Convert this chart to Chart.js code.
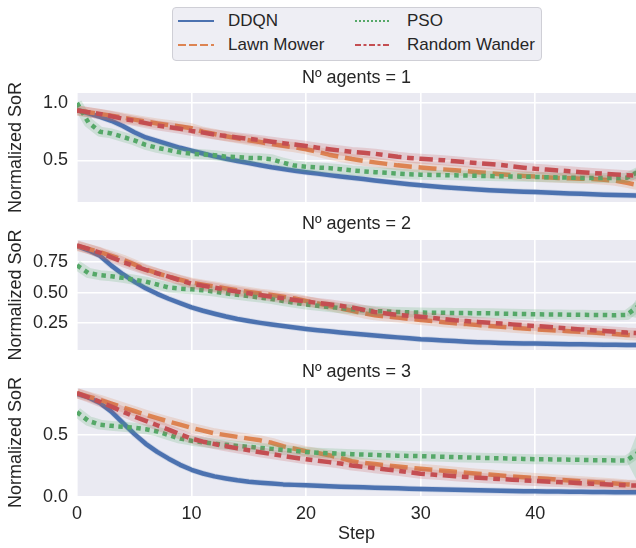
<!DOCTYPE html>
<html lang="en">
<head>
  <meta charset="UTF-8" />
  <title>Normalized SoR per step</title>
  <script src="https://cdn.jsdelivr.net/npm/chart.js"></script>
  <style>
    body {
      margin: 0;
      background: #ffffff;
    }

    #quadro {
      position: relative;
      width: 636px;
      height: 548px;
      overflow: hidden;
      font-family: "Liberation Sans", Arial, sans-serif;
      color: #262626;
    }

    #quadro canvas {
      position: absolute;
      left: 0;
      top: 0;
    }

    .titulo {
      position: absolute;
      left: 77px;
      width: 559px;
      text-align: center;
      font-size: 18px;
      line-height: 20px;
    }

    .legenda {
      position: absolute;
      left: 172px;
      top: 7px;
      width: 368px;
      height: 52px;
      border: 1px solid #cfcfd6;
      border-radius: 4px;
      background: #eeeef4;
      z-index: 5;
    }

    .legenda span {
      position: absolute;
      font-size: 17px;
      line-height: 20px;
      white-space: nowrap;
    }

    .legenda svg {
      position: absolute;
      width: 36px;
      height: 6px;
    }
  </style>
</head>
<body>
  <div id="quadro">
    <canvas id="g1" width="636" height="548"></canvas>
    <canvas id="g2" width="636" height="548"></canvas>
    <canvas id="g3" width="636" height="548"></canvas>

    <div class="titulo" style="top:67px">Nº agents = 1</div>
    <div class="titulo" style="top:213px">Nº agents = 2</div>
    <div class="titulo" style="top:361px">Nº agents = 3</div>

    <div class="legenda">
      <svg style="left:5px;top:10px"><line x1="0" y1="3" x2="36" y2="3" stroke="#4C72B0" stroke-width="2"/></svg>
      <span style="left:55px;top:3px">DDQN</span>
      <svg style="left:5px;top:34px"><line x1="0" y1="3" x2="36" y2="3" stroke="#DD8452" stroke-width="2" stroke-dasharray="8 3"/></svg>
      <span style="left:55px;top:27px">Lawn Mower</span>
      <svg style="left:182px;top:10px"><line x1="0" y1="3" x2="36" y2="3" stroke="#55A868" stroke-width="2" stroke-dasharray="2 2"/></svg>
      <span style="left:234px;top:3px">PSO</span>
      <svg style="left:182px;top:34px"><line x1="0" y1="3" x2="36" y2="3" stroke="#C44E52" stroke-width="2" stroke-dasharray="6 2.5 3 2.5"/></svg>
      <span style="left:234px;top:27px">Random Wander</span>
    </div>
  </div>

  <script>
    // steps on the x axis
    const steps = [0, 1, 2, 3, 4, 5, 6, 7, 8, 9, 10, 11, 12, 13, 14, 15, 16, 17, 18, 19,
      20, 21, 22, 23, 24, 25, 26, 27, 28, 29, 30, 31, 32, 33, 34, 35, 36, 37, 38, 39,
      40, 41, 42, 43, 44, 45, 46, 47, 48, 49];

    // Nº agents = 1
    const ddqn1 = [0.94, 0.91, 0.88, 0.845, 0.80, 0.745, 0.70, 0.67, 0.64, 0.61,
      0.585, 0.56, 0.535, 0.515, 0.495, 0.477, 0.458, 0.44, 0.425, 0.41,
      0.397, 0.385, 0.372, 0.36, 0.35, 0.338, 0.326, 0.314, 0.303, 0.293,
      0.283, 0.275, 0.267, 0.26, 0.253, 0.247, 0.241, 0.236, 0.231, 0.228,
      0.225, 0.221, 0.217, 0.213, 0.209, 0.205, 0.202, 0.199, 0.196, 0.194];
    const lawn1 = [0.935, 0.92, 0.905, 0.89, 0.873, 0.855, 0.838, 0.822, 0.808, 0.795,
      0.78, 0.75, 0.73, 0.71, 0.692, 0.676, 0.66, 0.642, 0.627, 0.614,
      0.597, 0.575, 0.55, 0.53, 0.512, 0.497, 0.483, 0.47, 0.457, 0.447,
      0.438, 0.43, 0.422, 0.414, 0.406, 0.398, 0.389, 0.38, 0.372, 0.365,
      0.36, 0.354, 0.348, 0.344, 0.341, 0.338, 0.332, 0.323, 0.305, 0.285];
    const pso1 = [1.0, 0.83, 0.75, 0.735, 0.705, 0.675, 0.635, 0.61, 0.59, 0.57,
      0.558, 0.553, 0.545, 0.533, 0.528, 0.522, 0.52, 0.51, 0.48, 0.455,
      0.445, 0.438, 0.433, 0.424, 0.413, 0.405, 0.398, 0.392, 0.386, 0.38,
      0.376, 0.374, 0.372, 0.37, 0.368, 0.366, 0.364, 0.362, 0.36, 0.358,
      0.356, 0.354, 0.352, 0.35, 0.348, 0.347, 0.346, 0.346, 0.35, 0.40];
    const wander1 = [0.935, 0.92, 0.905, 0.885, 0.863, 0.845, 0.825, 0.805, 0.79, 0.775,
      0.757, 0.742, 0.725, 0.712, 0.70, 0.688, 0.676, 0.663, 0.65, 0.638,
      0.625, 0.611, 0.598, 0.586, 0.574, 0.566, 0.558, 0.545, 0.532, 0.522,
      0.514, 0.508, 0.502, 0.492, 0.484, 0.476, 0.468, 0.46, 0.449, 0.437,
      0.427, 0.42, 0.413, 0.405, 0.397, 0.39, 0.384, 0.377, 0.372, 0.366];

    // Nº agents = 2
    const ddqn2 = [0.88, 0.845, 0.80, 0.72, 0.65, 0.59, 0.535, 0.49, 0.45, 0.415,
      0.38, 0.352, 0.328, 0.305, 0.285, 0.268, 0.253, 0.24, 0.227, 0.215,
      0.203, 0.193, 0.184, 0.175, 0.166, 0.158, 0.15, 0.142, 0.135, 0.128,
      0.12, 0.115, 0.11, 0.105, 0.10, 0.096, 0.093, 0.09, 0.088, 0.086,
      0.084, 0.082, 0.08, 0.079, 0.078, 0.076, 0.075, 0.074, 0.073, 0.072];
    const lawn2 = [0.88, 0.857, 0.83, 0.80, 0.768, 0.73, 0.69, 0.658, 0.63, 0.605,
      0.582, 0.565, 0.55, 0.534, 0.519, 0.505, 0.492, 0.48, 0.467, 0.452,
      0.432, 0.412, 0.393, 0.372, 0.352, 0.332, 0.315, 0.305, 0.296, 0.286,
      0.277, 0.268, 0.259, 0.25, 0.243, 0.235, 0.228, 0.221, 0.214, 0.207,
      0.20, 0.195, 0.19, 0.185, 0.18, 0.174, 0.168, 0.162, 0.155, 0.15];
    const pso2 = [0.723, 0.66, 0.642, 0.633, 0.62, 0.605, 0.59, 0.566, 0.542, 0.533,
      0.527, 0.519, 0.508, 0.494, 0.482, 0.471, 0.46, 0.447, 0.432, 0.417,
      0.403, 0.392, 0.383, 0.373, 0.364, 0.356, 0.35, 0.346, 0.342, 0.339,
      0.337, 0.336, 0.335, 0.334, 0.333, 0.332, 0.331, 0.329, 0.327, 0.325,
      0.323, 0.322, 0.321, 0.32, 0.319, 0.318, 0.317, 0.315, 0.318, 0.39];
    const wander2 = [0.886, 0.856, 0.826, 0.788, 0.75, 0.717, 0.685, 0.657, 0.63, 0.60,
      0.573, 0.556, 0.54, 0.524, 0.508, 0.494, 0.48, 0.467, 0.454, 0.44,
      0.427, 0.416, 0.405, 0.392, 0.38, 0.36, 0.342, 0.33, 0.318, 0.311,
      0.304, 0.294, 0.284, 0.274, 0.268, 0.261, 0.255, 0.248, 0.241, 0.234,
      0.228, 0.221, 0.214, 0.207, 0.20, 0.194, 0.187, 0.181, 0.174, 0.17];

    // Nº agents = 3
    const ddqn3 = [0.833, 0.805, 0.76, 0.69, 0.60, 0.51, 0.43, 0.365, 0.31, 0.26,
      0.22, 0.19, 0.167, 0.15, 0.135, 0.124, 0.116, 0.109, 0.102, 0.098,
      0.094, 0.09, 0.086, 0.083, 0.081, 0.078, 0.075, 0.072, 0.07, 0.067,
      0.065, 0.062, 0.06, 0.058, 0.056, 0.054, 0.052, 0.05, 0.049, 0.047,
      0.046, 0.045, 0.044, 0.043, 0.042, 0.041, 0.04, 0.039, 0.038, 0.038];
    const lawn3 = [0.839, 0.812, 0.785, 0.755, 0.725, 0.695, 0.665, 0.637, 0.61, 0.585,
      0.558, 0.536, 0.515, 0.50, 0.486, 0.472, 0.458, 0.438, 0.41, 0.39,
      0.37, 0.355, 0.338, 0.316, 0.29, 0.276, 0.266, 0.256, 0.246, 0.237,
      0.228, 0.22, 0.212, 0.204, 0.196, 0.188, 0.181, 0.174, 0.167, 0.16,
      0.153, 0.147, 0.14, 0.134, 0.127, 0.121, 0.115, 0.109, 0.102, 0.098];
    const pso3 = [0.686, 0.615, 0.585, 0.575, 0.567, 0.56, 0.548, 0.53, 0.50, 0.472,
      0.455, 0.442, 0.432, 0.422, 0.413, 0.405, 0.397, 0.389, 0.38, 0.372,
      0.363, 0.358, 0.354, 0.35, 0.346, 0.343, 0.34, 0.337, 0.334, 0.332,
      0.33, 0.327, 0.325, 0.322, 0.32, 0.317, 0.315, 0.313, 0.31, 0.308,
      0.306, 0.305, 0.303, 0.302, 0.30, 0.298, 0.297, 0.296, 0.296, 0.36];
    const wander3 = [0.839, 0.806, 0.77, 0.73, 0.69, 0.65, 0.615, 0.58, 0.545, 0.507,
      0.472, 0.447, 0.428, 0.41, 0.393, 0.378, 0.362, 0.347, 0.332, 0.318,
      0.305, 0.293, 0.282, 0.27, 0.255, 0.244, 0.233, 0.222, 0.212, 0.20,
      0.188, 0.181, 0.175, 0.168, 0.162, 0.156, 0.15, 0.145, 0.14, 0.134,
      0.129, 0.125, 0.121, 0.117, 0.112, 0.108, 0.103, 0.099, 0.094, 0.092];

    // PSO confidence band where it opens up at the last step
    const tailSteps = [48, 49];
    const psoTailLow1 = [0.342, 0.335];
    const psoTailHigh1 = [0.358, 0.445];
    const psoTailLow2 = [0.31, 0.29];
    const psoTailHigh2 = [0.326, 0.47];
    const psoTailLow3 = [0.287, 0.11];
    const psoTailHigh3 = [0.305, 0.54];

    // ticks
    const xTicks = [0, 10, 20, 30, 40];
    const yTicks1 = [0.5, 1.0];
    const yLabels1 = ['0.5', '1.0'];
    const yTicks2 = [0.25, 0.5, 0.75];
    const yLabels2 = ['0.25', '0.50', '0.75'];
    const yTicks3 = [0.0, 0.5];
    const yLabels3 = ['0.0', '0.5'];

    const fonte = { family: '"Liberation Sans", Arial, sans-serif', size: 18 };
    const corTexto = '#262626';

    // one entry per method: colour, dash and drawing order
    const metodos = [
      { nome: 'DDQN', rgb: '76,114,176', dash: [], banda: 6, ordem: 4 },
      { nome: 'Lawn Mower', rgb: '221,132,82', dash: [18, 6.75], banda: 10, ordem: 3 },
      { nome: 'PSO', rgb: '85,168,104', dash: [4.5, 4.5], banda: 10, ordem: 2 },
      { nome: 'Random Wander', rgb: '196,78,82', dash: [13.5, 5.6, 6.75, 5.6], banda: 10, ordem: 1 }
    ];

    // grey panel behind the plot area
    const fundo = {
      id: 'fundo',
      beforeDraw(chart) {
        const { ctx, chartArea: a } = chart;
        ctx.save();
        ctx.fillStyle = '#EAEAF2';
        ctx.fillRect(a.left, a.top, a.right - a.left, a.bottom - a.top);
        ctx.restore();
      }
    };

    function montarDatasets(series, tailLow, tailHigh) {
      const datasets = [];
      metodos.forEach((m, i) => {
        datasets.push({
          label: m.nome,
          data: series[i],
          borderColor: `rgb(${m.rgb})`,
          borderWidth: 4.5,
          borderDash: m.dash,
          borderJoinStyle: 'round',
          pointRadius: 0,
          fill: false,
          clip: 0,
          order: m.ordem
        });
        datasets.push({
          label: m.nome + ' band',
          data: series[i],
          borderColor: `rgba(${m.rgb},0.2)`,
          borderWidth: m.banda,
          borderJoinStyle: 'round',
          pointRadius: 0,
          fill: false,
          clip: 0,
          order: m.ordem + 0.5
        });
      });
      // PSO tail band: lower edge then upper edge filled down to it
      datasets.push({
        label: 'PSO low',
        data: tailLow.map((y, i) => ({ x: tailSteps[i], y: y })),
        borderWidth: 0,
        pointRadius: 0,
        fill: false,
        clip: 0,
        order: 2.5
      });
      datasets.push({
        label: 'PSO high',
        data: tailHigh.map((y, i) => ({ x: tailSteps[i], y: y })),
        borderWidth: 0,
        pointRadius: 0,
        backgroundColor: 'rgba(85,168,104,0.2)',
        fill: '-1',
        clip: 0,
        order: 2.5
      });
      return datasets;
    }

    function montarGrafico(id, series, tailLow, tailHigh, eixo) {
      return new Chart(document.getElementById(id), {
        type: 'line',
        data: {
          labels: steps,
          datasets: montarDatasets(series, tailLow, tailHigh)
        },
        options: {
          responsive: false,
          animation: false,
          devicePixelRatio: 1,
          layout: { padding: { left: 0, right: 0, top: eixo.topo, bottom: eixo.base } },
          plugins: {
            legend: { display: false },
            tooltip: { enabled: false }
          },
          scales: {
            x: {
              type: 'linear',
              min: 0,
              max: 48.8,
              grid: { color: '#ffffff', lineWidth: 1.6, drawTicks: false },
              border: { display: false },
              ticks: { display: eixo.mostrarX, padding: 6, font: fonte, color: corTexto },
              title: { display: eixo.mostrarX, text: 'Step', font: fonte, color: corTexto, padding: 0 },
              afterBuildTicks: s => { s.ticks = xTicks.map(v => ({ value: v })); },
              afterFit: s => { s.height = eixo.mostrarX ? 48 : 0; }
            },
            y: {
              min: eixo.min,
              max: eixo.max,
              grid: { color: '#ffffff', lineWidth: 1.6, drawTicks: false },
              border: { display: false },
              ticks: {
                padding: 9,
                font: fonte,
                color: corTexto,
                callback: (v, i) => eixo.rotulos[i]
              },
              title: {
                display: true,
                text: 'Normalized SoR',
                font: fonte,
                color: corTexto,
                padding: { top: 5, bottom: 0 }
              },
              afterBuildTicks: s => { s.ticks = eixo.ticks.map(v => ({ value: v })); },
              afterFit: s => { s.width = 77; }
            }
          }
        },
        plugins: [fundo]
      });
    }

    montarGrafico('g1', [ddqn1, lawn1, pso1, wander1], psoTailLow1, psoTailHigh1,
      { min: 0.138, max: 1.087, ticks: yTicks1, rotulos: yLabels1, topo: 93, base: 346, mostrarX: false });
    montarGrafico('g2', [ddqn2, lawn2, pso2, wander2], psoTailLow2, psoTailHigh2,
      { min: 0.032, max: 0.929, ticks: yTicks2, rotulos: yLabels2, topo: 240, base: 198, mostrarX: false });
    montarGrafico('g3', [ddqn3, lawn3, pso3, wander3], psoTailLow3, psoTailHigh3,
      { min: 0, max: 0.881, ticks: yTicks3, rotulos: yLabels3, topo: 388, base: 3, mostrarX: true });
  </script>
</body>
</html>
